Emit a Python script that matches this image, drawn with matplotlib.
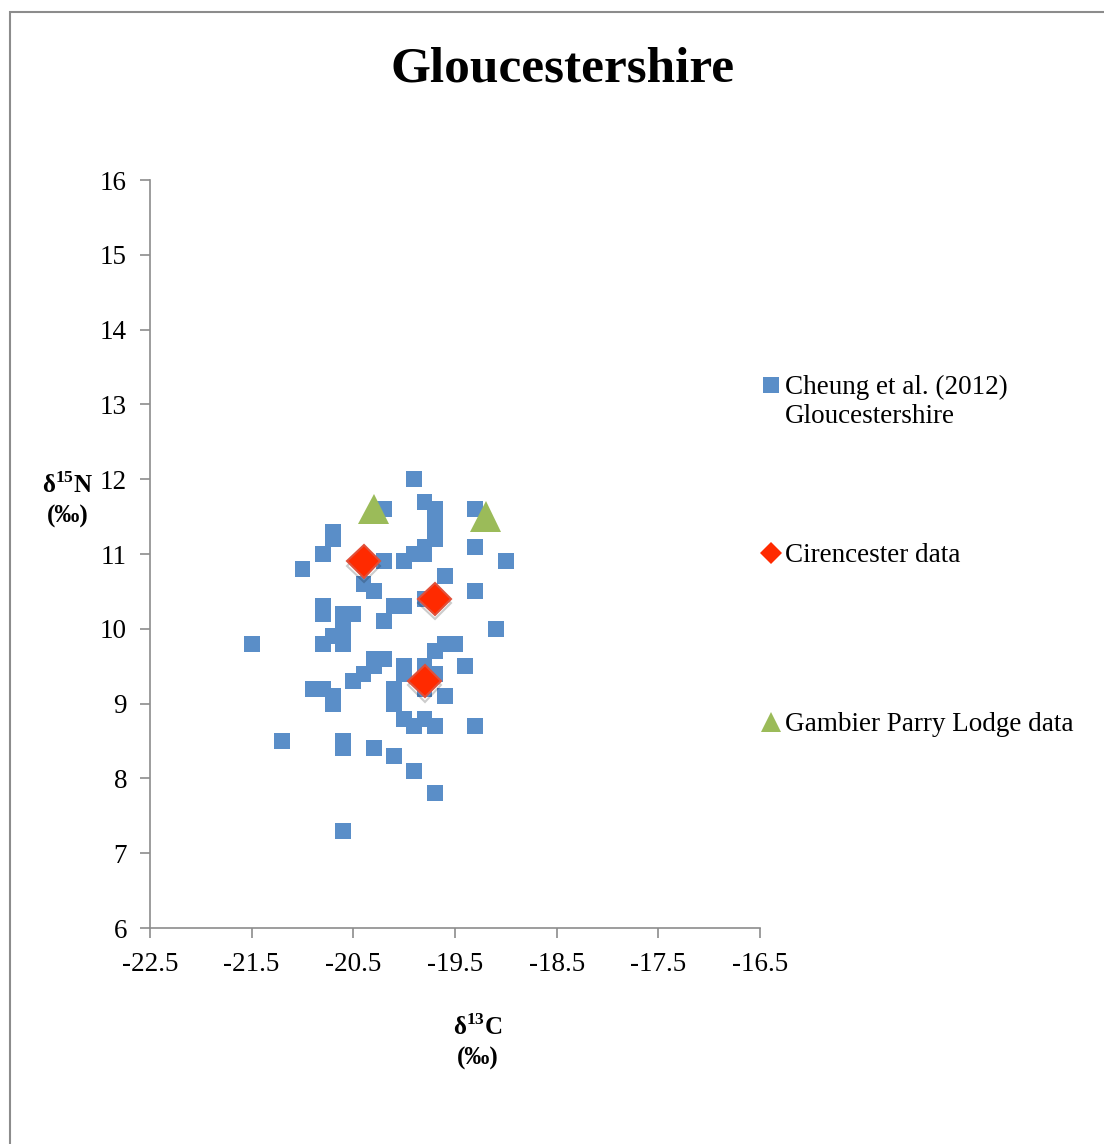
import matplotlib
matplotlib.use("Agg")
import matplotlib.pyplot as plt
import matplotlib.patheffects as pe
from matplotlib.lines import Line2D
from matplotlib.patches import Rectangle
import numpy as np

plt.rcParams["font.family"] = ["Liberation Serif", "DejaVu Serif"]
plt.rcParams["mathtext.fontset"] = "custom"
plt.rcParams["mathtext.rm"] = "Liberation Serif"
plt.rcParams["mathtext.bf"] = "Liberation Serif:bold"

# Cheung et al. (2012) Gloucestershire
cheung_c = [-19.9, -19.8, -19.7, -19.7, -19.7, -19.7, -19.7, -20.2, -19.3, -20.7,
            -20.7, -20.8, -21.0, -19.3, -19.0, -20.2, -20.0, -19.9, -19.8, -19.8,
            -20.4, -20.3, -19.6, -19.3, -19.8, -20.1, -20.0, -20.2, -20.8, -20.8,
            -20.6, -20.5, -20.6, -20.6, -20.7, -20.8, -20.6, -19.1, -21.5, -19.6,
            -19.5, -19.7, -20.3, -20.2, -20.3, -20.4, -20.5, -20.0, -20.0, -19.8,
            -19.7, -19.8, -19.4, -19.6, -20.1, -20.1, -20.9, -20.8, -20.7, -20.7,
            -20.0, -19.9, -19.8, -19.7, -19.3, -21.2, -20.6, -20.6, -20.3, -20.1,
            -19.9, -19.7, -20.6]
cheung_n = [12.0, 11.7, 11.6, 11.5, 11.4, 11.3, 11.2, 11.6, 11.6, 11.3,
            11.2, 11.0, 10.8, 11.1, 10.9, 10.9, 10.9, 11.0, 11.1, 11.0,
            10.6, 10.5, 10.7, 10.5, 10.4, 10.3, 10.3, 10.1, 10.3, 10.2,
            10.2, 10.2, 10.0, 9.9, 9.9, 9.8, 9.8, 10.0, 9.8, 9.8,
            9.8, 9.7, 9.6, 9.6, 9.5, 9.4, 9.3, 9.5, 9.4, 9.5,
            9.4, 9.2, 9.5, 9.1, 9.2, 9.0, 9.2, 9.2, 9.1, 9.0,
            8.8, 8.7, 8.8, 8.7, 8.7, 8.5, 8.5, 8.4, 8.4, 8.3,
            8.1, 7.8, 7.3]

# Cirencester data
ciren_c = [-20.4, -19.7, -19.8]
ciren_n = [10.9, 10.4, 9.3]

# Gambier Parry Lodge data
gambier_c = [-20.3, -19.2]
gambier_n = [11.6, 11.5]

x_ticks = np.arange(-22.5, -16.4, 1.0)
y_ticks = np.arange(6, 17, 1)

blue = "#5a8ec8"
red = "#ff2a00"
green = "#9bbb59"

fig = plt.figure(figsize=(11.04, 11.44), dpi=100)
ax = fig.add_axes([150 / 1104, 1 - 928 / 1144, 610 / 1104, 748 / 1144])

shadow = [pe.SimpleLineShadow(offset=(0, -3), alpha=0.2, shadow_color="black"), pe.Normal()]

ax.plot(cheung_c, cheung_n, ls="none", marker="s", markersize=11.5, color=blue,
        markeredgewidth=0, path_effects=shadow, zorder=3)
ax.plot(ciren_c, ciren_n, ls="none", marker="D", markersize=16.5, color=red,
        markeredgecolor="#e0503a", markeredgewidth=1.5, path_effects=shadow, zorder=4)
ax.plot(gambier_c, gambier_n, ls="none", marker="^", markersize=22, color=green,
        markeredgewidth=0, path_effects=shadow, zorder=4)

ax.set_xlim(-22.5, -16.5)
ax.set_ylim(6, 16)
ax.set_xticks(x_ticks)
ax.set_xticklabels([f"{v:.1f}" for v in x_ticks])
ax.set_yticks(y_ticks)
for s in ["top", "right"]:
    ax.spines[s].set_visible(False)
for s in ["left", "bottom"]:
    ax.spines[s].set_color("#8c8c8c")
    ax.spines[s].set_linewidth(1.2)
ax.tick_params(direction="out", length=7, width=1.2, color="#8c8c8c", labelsize=19.5)
ax.tick_params(axis="x", pad=10)
ax.tick_params(axis="y", pad=9.5)

fig.text(563 / 1104, 1 - 70 / 1144, "Gloucestershire", ha="center", va="center",
         fontsize=37, fontweight="bold")
fig.text(68 / 1104, 1 - 500 / 1144, "δ$^{\\mathbf{15}}$N\n(‰)", ha="center", va="center",
         fontsize=18, fontweight="bold", linespacing=1.4)
fig.text(478 / 1104, 1 - 1042 / 1144, "δ$^{\\mathbf{13}}$C\n(‰)", ha="center", va="center",
         fontsize=18, fontweight="bold", linespacing=1.4)

# legend, drawn by hand so the marker sits on the first text line
legend_rows = [
    ("s", 11, blue, "Cheung et al. (2012)\nGloucestershire", 385),
    ("D", 11, red, "Cirencester data", 553),
    ("^", 14, green, "Gambier Parry Lodge data", 722),
]
for marker, size, color, label, ypx in legend_rows:
    y = 1 - ypx / 1144
    fig.add_artist(Line2D([771 / 1104], [y], transform=fig.transFigure, ls="none",
                          marker=marker, markersize=size, color=color, markeredgewidth=0))
    fig.text(785 / 1104, y + 10 / 1144, label, ha="left", va="top", fontsize=19.5,
             linespacing=1.2)

fig.add_artist(Rectangle((10 / 1104, -0.1), 1.2, 1 - 12 / 1144 + 0.1, transform=fig.transFigure,
                         fill=False, edgecolor="#8c8c8c", linewidth=1.5))

fig.savefig("out.png", dpi=100, facecolor="white")
